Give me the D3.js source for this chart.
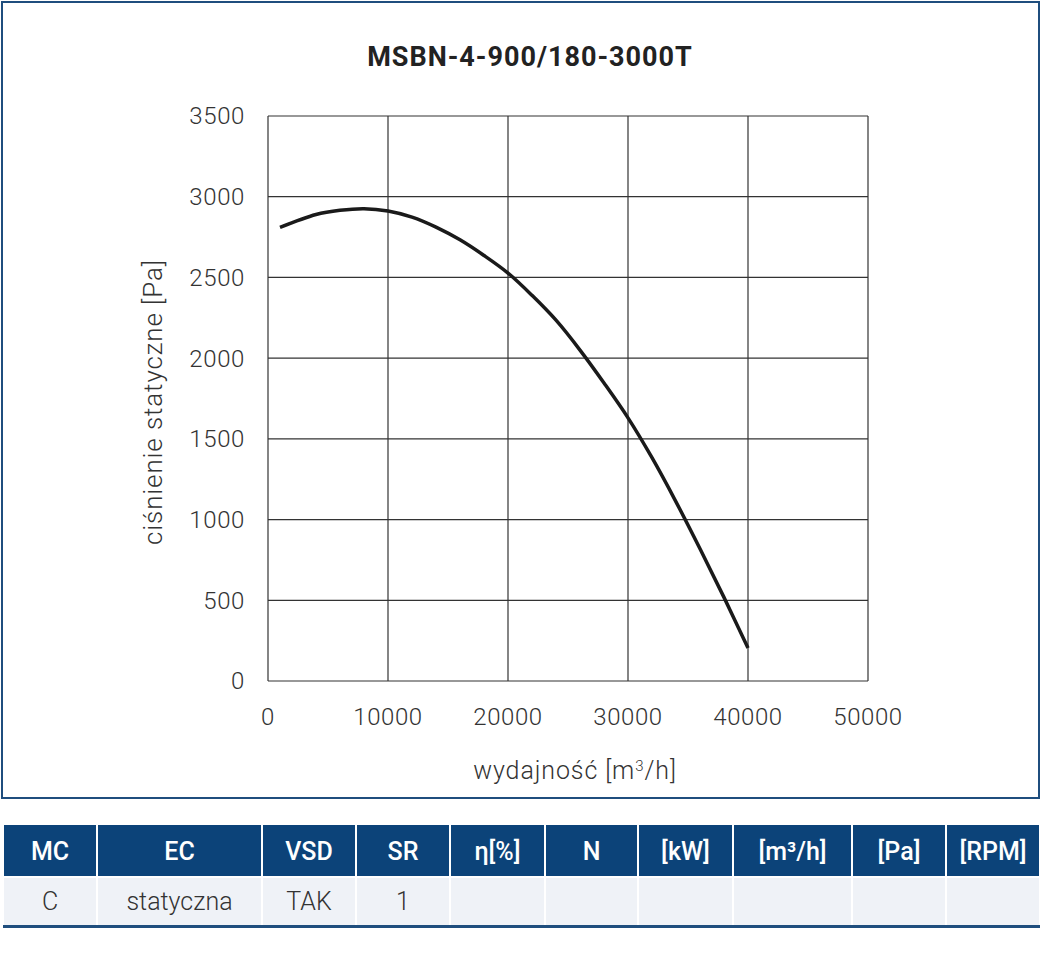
<!DOCTYPE html>
<html>
<head>
<meta charset="utf-8">
<script src="https://cdn.jsdelivr.net/npm/d3@7"></script>
<style>
  body { margin: 0; background: #fff; }
  text { font-family: Roboto, "Noto Sans", sans-serif; }
</style>
</head>
<body>
<svg id="chart"></svg>
<script>
const width = 1043;
const height = 957;

// fan curve
const flow = [1000, 4000, 6000, 8000, 10000, 12000, 14000, 16000, 18000, 20000, 22000, 24000, 26000, 28000, 30000, 32000, 34000, 36000, 38000, 40000];
const pressure = [2810, 2890, 2916, 2926, 2912, 2874, 2812, 2733, 2636, 2527, 2389, 2235, 2050, 1846, 1630, 1383, 1110, 819, 518, 204];

const xTicks = [0, 10000, 20000, 30000, 40000, 50000];
const yTicks = [0, 500, 1000, 1500, 2000, 2500, 3000, 3500];

const headers = ['MC', 'EC', 'VSD', 'SR', 'η[%]', 'N', '[kW]', '[m³/h]', '[Pa]', '[RPM]'];
const rowValues = ['C', 'statyczna', 'TAK', '1', '', '', '', '', '', ''];
const colEdges = [3, 97, 262, 356, 450, 545, 638, 733, 852, 946, 1040];

const blue = '#0c4379';
const frameBlue = '#1f4e7e';

const svg = d3.select('#chart').attr('width', width).attr('height', height);

svg.append('rect')
    .attr('x', 2).attr('y', 2)
    .attr('width', 1037).attr('height', 796)
    .attr('fill', 'none')
    .attr('stroke', frameBlue)
    .attr('stroke-width', 2);

const x = d3.scaleLinear().domain([0, 50000]).range([268, 868]);
const y = d3.scaleLinear().domain([0, 3500]).range([681, 116]);

// grid
const grid = svg.append('g').attr('stroke', '#333').attr('stroke-width', 1.2);
grid.selectAll('line.v')
    .data(xTicks)
    .join('line')
    .attr('class', 'v')
    .attr('x1', d => x(d)).attr('x2', d => x(d))
    .attr('y1', y(0)).attr('y2', y(3500));
grid.selectAll('line.h')
    .data(yTicks)
    .join('line')
    .attr('class', 'h')
    .attr('x1', x(0)).attr('x2', x(50000))
    .attr('y1', d => y(d)).attr('y2', d => y(d));

// tick labels
svg.append('g')
    .selectAll('text')
    .data(yTicks)
    .join('text')
    .attr('x', 245)
    .attr('y', d => y(d))
    .attr('dy', '0.35em')
    .attr('text-anchor', 'end')
    .attr('font-size', 24)
    .attr('font-weight', 300)
    .attr('letter-spacing', 0.6)
    .attr('fill', '#333')
    .text(d => d);

svg.append('g')
    .selectAll('text')
    .data(xTicks)
    .join('text')
    .attr('x', d => x(d))
    .attr('y', 717)
    .attr('dy', '0.35em')
    .attr('text-anchor', 'middle')
    .attr('font-size', 24)
    .attr('font-weight', 300)
    .attr('letter-spacing', 0.6)
    .attr('fill', '#333')
    .text(d => d);

// title and axis labels
svg.append('text')
    .attr('x', 530).attr('y', 57)
    .attr('dy', '0.35em')
    .attr('text-anchor', 'middle')
    .attr('font-size', 27)
    .attr('font-weight', 700)
    .attr('letter-spacing', 1)
    .attr('fill', '#222')
    .text('MSBN-4-900/180-3000T');

const xl = svg.append('text')
    .attr('x', 575).attr('y', 770)
    .attr('dy', '0.35em')
    .attr('text-anchor', 'middle')
    .attr('font-size', 25)
    .attr('font-weight', 300)
    .attr('letter-spacing', 0.9)
    .attr('fill', '#333');
xl.append('tspan').text('wydajność [m');
xl.append('tspan').attr('font-size', 15).attr('dy', '-0.55em').text('3');
xl.append('tspan').attr('dy', '0.35em').text('/h]');

svg.append('text')
    .attr('transform', 'translate(153,402) rotate(-90)')
    .attr('dy', '0.35em')
    .attr('text-anchor', 'middle')
    .attr('font-size', 26)
    .attr('font-weight', 300)
    .attr('letter-spacing', 0.9)
    .attr('fill', '#333')
    .text('ciśnienie statyczne [Pa]');

// curve
const points = flow.map((f, i) => [f, pressure[i]]);
svg.append('path')
    .datum(points)
    .attr('fill', 'none')
    .attr('stroke', '#1a1a1a')
    .attr('stroke-width', 3.5)
    .attr('d', d3.line()
        .x(d => x(d[0]))
        .y(d => y(d[1]))
        .curve(d3.curveCatmullRom.alpha(0.5)));

// table
const cols = headers.map((h, i) => ({
    head: h,
    value: rowValues[i],
    x0: colEdges[i],
    x1: colEdges[i + 1]
}));

const table = svg.append('g');
table.selectAll('rect.head')
    .data(cols)
    .join('rect')
    .attr('class', 'head')
    .attr('x', d => d.x0 + 1)
    .attr('width', d => d.x1 - d.x0 - 2)
    .attr('y', 825).attr('height', 51)
    .attr('fill', blue);
table.selectAll('rect.body')
    .data(cols)
    .join('rect')
    .attr('class', 'body')
    .attr('x', d => d.x0 + 1)
    .attr('width', d => d.x1 - d.x0 - 2)
    .attr('y', 878).attr('height', 47)
    .attr('fill', '#eff2f7');
table.append('rect')
    .attr('x', 3).attr('width', 1037)
    .attr('y', 925).attr('height', 3)
    .attr('fill', frameBlue);

table.selectAll('text.head')
    .data(cols)
    .join('text')
    .attr('class', 'head')
    .attr('x', d => (d.x0 + d.x1) / 2)
    .attr('y', 851)
    .attr('dy', '0.35em')
    .attr('text-anchor', 'middle')
    .attr('font-size', 25)
    .attr('font-weight', 500)
    .attr('fill', '#fff')
    .text(d => d.head);
table.selectAll('text.body')
    .data(cols)
    .join('text')
    .attr('class', 'body')
    .attr('x', d => (d.x0 + d.x1) / 2)
    .attr('y', 901)
    .attr('dy', '0.35em')
    .attr('text-anchor', 'middle')
    .attr('font-size', 25)
    .attr('font-weight', 300)
    .attr('fill', '#333')
    .text(d => d.value);
</script>
</body>
</html>
